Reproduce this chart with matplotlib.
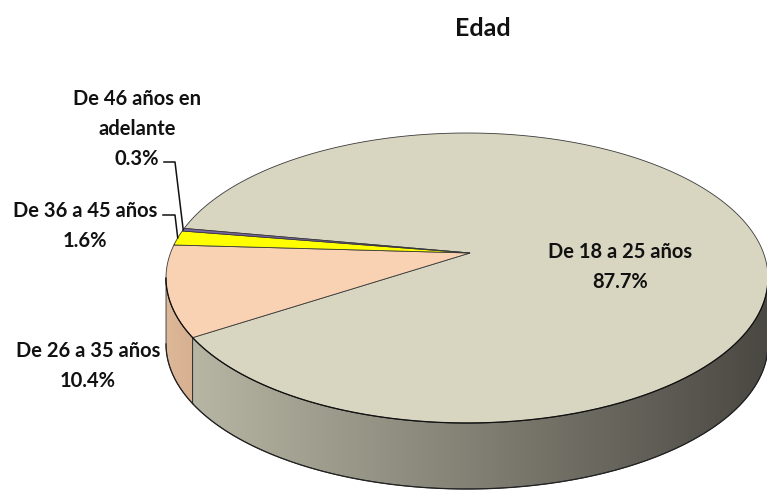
import numpy as np
import matplotlib.pyplot as plt
from matplotlib.patches import Polygon
from matplotlib.colors import to_rgb

plt.rcParams['font.family'] = ['Lato', 'DejaVu Sans']

title = 'Edad'
categories = ['De 18 a 25 años', 'De 26 a 35 años', 'De 36 a 45 años',
              'De 46 años en\nadelante']
values = [87.7, 10.4, 1.6, 0.3]
top_colors = ['#d8d6c1', '#f9d2b3', '#ffff00', '#7a66a6']
side_colors = [('#bcbba8', '#4a4842'), ('#ddb899', '#d6b090'),
               ('#d8d800', '#d8d800'), ('#5c4c80', '#5c4c80')]

# layout of the fake 3d pie, in pixels
CX, CY = 467, 278
RX, RY = 301, 145
APEX = (470, 253)
DEPTH = 66
START = 160  # degrees, slices run clockwise

W, H = 767, 491


def rim(t):
    t = np.radians(t)
    return CX + RX * np.cos(t), CY - RY * np.sin(t)


fig = plt.figure(figsize=(W / 100, H / 100), dpi=100)
ax = fig.add_axes([0, 0, 1, 1])
ax.set_xlim(0, W)
ax.set_ylim(H, 0)
ax.axis('off')

bounds = START - np.concatenate([[0], np.cumsum(values)]) * 3.6

# side wall (front half of the ellipse)
for i in range(len(values)):
    hi, lo = bounds[i], bounds[i + 1]
    for k in (-1, 0, 1):
        a = max(lo, 180 + 360 * k)
        b = min(hi, 360 + 360 * k)
        if b <= a:
            continue
        t = np.linspace(a, b, 200)
        x, y = rim(t)
        pts = np.concatenate([np.column_stack([x, y]),
                              np.column_stack([x[::-1], y[::-1] + DEPTH])])
        wall = Polygon(pts, closed=True, facecolor='none',
                       edgecolor='#303030', lw=0.6, zorder=2)
        ax.add_patch(wall)
        c0, c1 = np.array(to_rgb(side_colors[i][0])), np.array(to_rgb(side_colors[i][1]))
        f = np.linspace(0, 1, 256)[:, None]
        grad = (c0 * (1 - f) + c1 * f)[None, :, :]
        x0, x1 = (CX - RX, CX + RX) if i == 0 else (x.min(), x.max())
        im = ax.imshow(grad, extent=(x0, x1, y.max() + DEPTH, y.min()),
                       aspect='auto', zorder=1, interpolation='bilinear')
        im.set_clip_path(wall)
        # darker outline at the bottom
        ax.plot(x, y + DEPTH, color='#222222', lw=0.9, zorder=3)

# top face
for i in range(len(values)):
    t = np.linspace(bounds[i], bounds[i + 1], 300)
    x, y = rim(t)
    pts = np.vstack([[APEX], np.column_stack([x, y])])
    ax.add_patch(Polygon(pts, closed=True, facecolor=top_colors[i],
                         edgecolor='#3a3a3a', lw=0.6, zorder=4))

# front top edge a bit stronger
t = np.linspace(180, 360, 300)
x, y = rim(t)
ax.plot(x, y, color='#111111', lw=0.9, zorder=5)

fs = 14.5
ls = 1.6
ax.text(483, 28, title, ha='center', va='center', fontsize=18,
        fontweight='bold', color='#111111', zorder=8)

pct = [f'{v:.1f}%' for v in values]
label_pos = [(620, 267), (88, 366), (85, 226), (137, 129)]
for i, (lx, ly) in enumerate(label_pos):
    ax.text(lx, ly, f'{categories[i]}\n{pct[i]}', ha='center', va='center',
            fontsize=fs, fontweight='bold', linespacing=ls,
            color='#111111', zorder=8)

# leader lines for the two thin slices
for i, (ly, lx) in [(2, (215, 163)), (3, (162, 164))]:
    mid = (bounds[i] + bounds[i + 1]) / 2
    rx, ry = rim(mid)
    ax.plot([lx, 175, rx], [ly, ly, ry], color='#111111', lw=1.1, zorder=6)

fig.savefig('out.png', dpi=100)
